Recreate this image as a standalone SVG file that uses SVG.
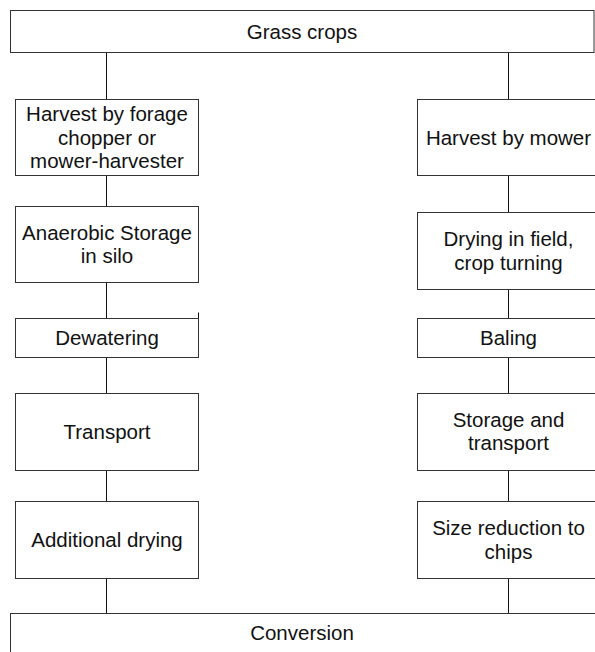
<svg xmlns="http://www.w3.org/2000/svg" width="595" height="652" viewBox="0 0 595 652">
<style>
  .box { fill: #fff; stroke: #333; stroke-width: 1; }
  .lbl { font-family: "Liberation Sans", Arial, sans-serif; font-size: 20.5px; fill: #111; text-anchor: middle; }
  .conn line { stroke: #111; stroke-width: 1; }
</style>
<rect width="595" height="652" fill="#fff"/>
<g id="connectors" class="conn">
  <line x1="106.5" y1="52.5" x2="106.5" y2="99.5"/>
  <line x1="106.5" y1="175.5" x2="106.5" y2="206.5"/>
  <line x1="106.5" y1="282.5" x2="106.5" y2="318.5"/>
  <line x1="106.5" y1="357.5" x2="106.5" y2="393.5"/>
  <line x1="106.5" y1="470.5" x2="106.5" y2="501.5"/>
  <line x1="106.5" y1="578.5" x2="106.5" y2="613.5"/>
  <line x1="508.5" y1="52.5" x2="508.5" y2="99.5"/>
  <line x1="508.5" y1="175.5" x2="508.5" y2="212.5"/>
  <line x1="508.5" y1="289.5" x2="508.5" y2="318.5"/>
  <line x1="508.5" y1="357.5" x2="508.5" y2="393.5"/>
  <line x1="508.5" y1="470.5" x2="508.5" y2="501.5"/>
  <line x1="508.5" y1="578.5" x2="508.5" y2="613.5"/>
  <line x1="198.5" y1="312.5" x2="198.5" y2="318.5"/>
</g>
<g id="grass">
  <rect class="box" x="10.5" y="10.5" width="583.5" height="42"/>
  <text class="lbl" x="302" y="39">Grass crops</text>
</g>
<g id="harvest-forage">
  <rect class="box" x="15.5" y="99.5" width="183" height="76"/>
  <text class="lbl" x="107" y="121">Harvest by forage</text>
  <text class="lbl" x="107" y="144.5">chopper or</text>
  <text class="lbl" x="107" y="168"> mower-harvester</text>
</g>
<g id="anaerobic">
  <rect class="box" x="15.5" y="206.5" width="183" height="76"/>
  <text class="lbl" x="107" y="239.5">Anaerobic Storage</text>
  <text class="lbl" x="107" y="263">in silo</text>
</g>
<g id="dewatering">
  <rect class="box" x="15.5" y="318.5" width="183" height="39"/>
  <text class="lbl" x="107" y="345">Dewatering</text>
</g>
<g id="transport">
  <rect class="box" x="15.5" y="393.5" width="183" height="77"/>
  <text class="lbl" x="107" y="439">Transport</text>
</g>
<g id="additional-drying">
  <rect class="box" x="15.5" y="501.5" width="183" height="77"/>
  <text class="lbl" x="107" y="547">Additional drying</text>
</g>
<g id="harvest-mower">
  <rect class="box" x="417.5" y="99.5" width="183" height="76"/>
  <text class="lbl" x="508.5" y="144.5">Harvest by mower</text>
</g>
<g id="drying-field">
  <rect class="box" x="417.5" y="212.5" width="183" height="77"/>
  <text class="lbl" x="508.5" y="246">Drying in field,</text>
  <text class="lbl" x="508.5" y="269.5">crop turning</text>
</g>
<g id="baling">
  <rect class="box" x="417.5" y="318.5" width="183" height="39"/>
  <text class="lbl" x="508.5" y="345">Baling</text>
</g>
<g id="storage-transport">
  <rect class="box" x="417.5" y="393.5" width="183" height="77"/>
  <text class="lbl" x="508.5" y="426.5">Storage and</text>
  <text class="lbl" x="508.5" y="450">transport</text>
</g>
<g id="size-reduction">
  <rect class="box" x="417.5" y="501.5" width="183" height="77"/>
  <text class="lbl" x="508.5" y="535">Size reduction to</text>
  <text class="lbl" x="508.5" y="558.5">chips</text>
</g>
<g id="conversion">
  <rect class="box" x="10.5" y="613.5" width="600" height="60"/>
  <text class="lbl" x="302" y="640">Conversion</text>
</g>
</svg>
